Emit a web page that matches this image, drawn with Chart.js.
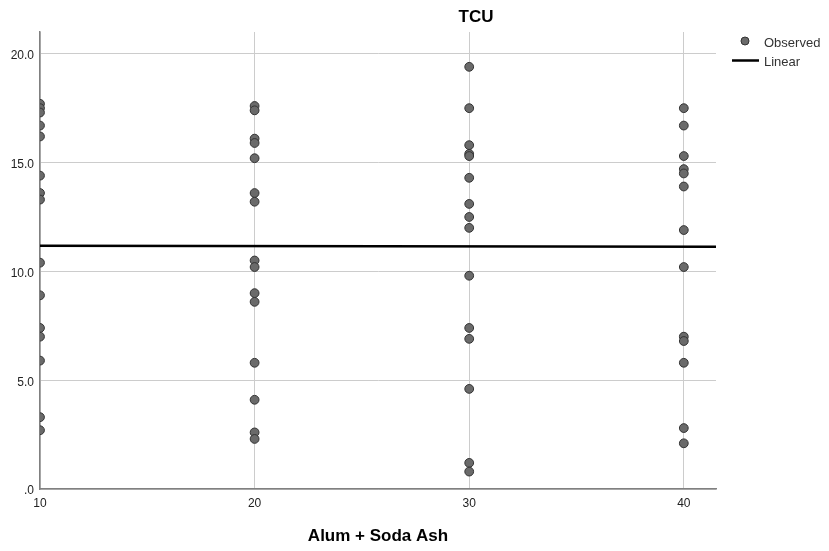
<!DOCTYPE html>
<html>
<head>
<meta charset="utf-8">
<title>TCU</title>
<script src="https://cdn.jsdelivr.net/npm/chart.js@4/dist/chart.umd.min.js"></script>
<style>
  html, body { margin: 0; padding: 0; background: #ffffff; }
  #wrap { width: 829px; height: 551px; position: relative; }
  canvas { display: block; }
</style>
</head>
<body>
<div id="wrap"><canvas id="chart" width="829" height="551"></canvas></div>
<script>
// Dose levels (Alum + Soda Ash) and observed TCU at each level
const doses = [10, 20, 30, 40];
const tcuAt10 = [17.7, 17.5, 17.3, 16.7, 16.2, 14.4, 13.6, 13.3, 10.4, 8.9, 7.4, 7.0, 5.9, 3.3, 2.7];
const tcuAt20 = [17.6, 17.4, 16.1, 15.9, 15.2, 13.6, 13.2, 10.5, 10.2, 9.0, 8.6, 5.8, 4.1, 2.6, 2.3];
const tcuAt30 = [19.4, 17.5, 15.8, 15.4, 15.3, 14.3, 13.1, 12.5, 12.0, 9.8, 7.4, 6.9, 4.6, 1.2, 0.8];
const tcuAt40 = [17.5, 16.7, 15.3, 14.7, 14.5, 13.9, 11.9, 10.2, 7.0, 6.8, 5.8, 2.8, 2.1];

// Linear fit line endpoints
const fitX = [10, 41.5];
const fitY = [11.18, 11.13];

// Axis ticks
const xTicks = [10, 20, 30, 40];
const yTicks = [0, 5, 10, 15, 20];

const groups = [tcuAt10, tcuAt20, tcuAt30, tcuAt40];
const observed = [];
groups.forEach((vals, i) => vals.forEach(v => observed.push({ x: doses[i], y: v })));
const linear = fitX.map((x, i) => ({ x: x, y: fitY[i] }));

const FONT = "'Liberation Sans', Arial, sans-serif";

// Titles and legend drawn around the plot area
const decorations = {
  id: 'decorations',
  afterDraw(chart) {
    const ctx = chart.ctx;
    const area = chart.chartArea;
    ctx.save();
    ctx.fillStyle = '#000';
    ctx.textBaseline = 'middle';
    ctx.textAlign = 'center';
    ctx.font = 'bold 17px ' + FONT;
    ctx.fillText('TCU', 476, 17);
    ctx.fillText('Alum + Soda Ash', (area.left + area.right) / 2, 536);

    // legend
    const obs = chart.data.datasets[0];
    const lin = chart.data.datasets[1];
    ctx.beginPath();
    ctx.arc(745, 41, 4, 0, Math.PI * 2);
    ctx.fillStyle = obs.backgroundColor;
    ctx.fill();
    ctx.lineWidth = 1;
    ctx.strokeStyle = obs.borderColor;
    ctx.stroke();
    ctx.beginPath();
    ctx.moveTo(732, 60.5);
    ctx.lineTo(759, 60.5);
    ctx.lineWidth = lin.borderWidth;
    ctx.strokeStyle = lin.borderColor;
    ctx.stroke();
    ctx.font = '13px ' + FONT;
    ctx.fillStyle = '#333';
    ctx.textAlign = 'left';
    ctx.fillText('Observed', 764, 43);
    ctx.fillText('Linear', 764, 62);
    ctx.restore();
  }
};

new Chart(document.getElementById('chart'), {
  type: 'scatter',
  data: {
    datasets: [
      {
        label: 'Observed',
        data: observed,
        backgroundColor: '#6a6a6a',
        borderColor: '#333333',
        borderWidth: 1,
        pointRadius: 4.4,
        pointHoverRadius: 4.4
      },
      {
        label: 'Linear',
        type: 'line',
        data: linear,
        borderColor: '#000000',
        borderWidth: 2.5,
        pointRadius: 0,
        fill: false
      }
    ]
  },
  options: {
    responsive: false,
    animation: false,
    layout: { padding: { top: 32, right: 113, left: 0, bottom: 0 } },
    plugins: {
      legend: { display: false },
      title: { display: false },
      tooltip: { enabled: false }
    },
    scales: {
      x: {
        type: 'linear',
        min: 10,
        max: 41.5,
        afterBuildTicks(scale) { scale.ticks = xTicks.map(v => ({ value: v })); },
        afterFit(scale) { scale.height = 62; },
        grid: { color: '#cccccc', lineWidth: 1, drawTicks: false },
        border: { display: true, color: '#808080', width: 1.5 },
        ticks: {
          padding: 7,
          color: '#222',
          font: { family: FONT, size: 12 },
          callback: v => String(v)
        }
      },
      y: {
        type: 'linear',
        min: 0,
        max: 21,
        afterBuildTicks(scale) { scale.ticks = yTicks.map(v => ({ value: v })); },
        afterFit(scale) { scale.width = 40; },
        grid: { color: '#cccccc', lineWidth: 1, drawTicks: false },
        border: { display: true, color: '#808080', width: 1.5 },
        ticks: {
          padding: 6,
          labelOffset: 2,
          color: '#222',
          font: { family: FONT, size: 12 },
          callback: v => (v === 0 ? '.0' : v.toFixed(1))
        }
      }
    }
  },
  plugins: [decorations]
});
</script>
</body>
</html>
